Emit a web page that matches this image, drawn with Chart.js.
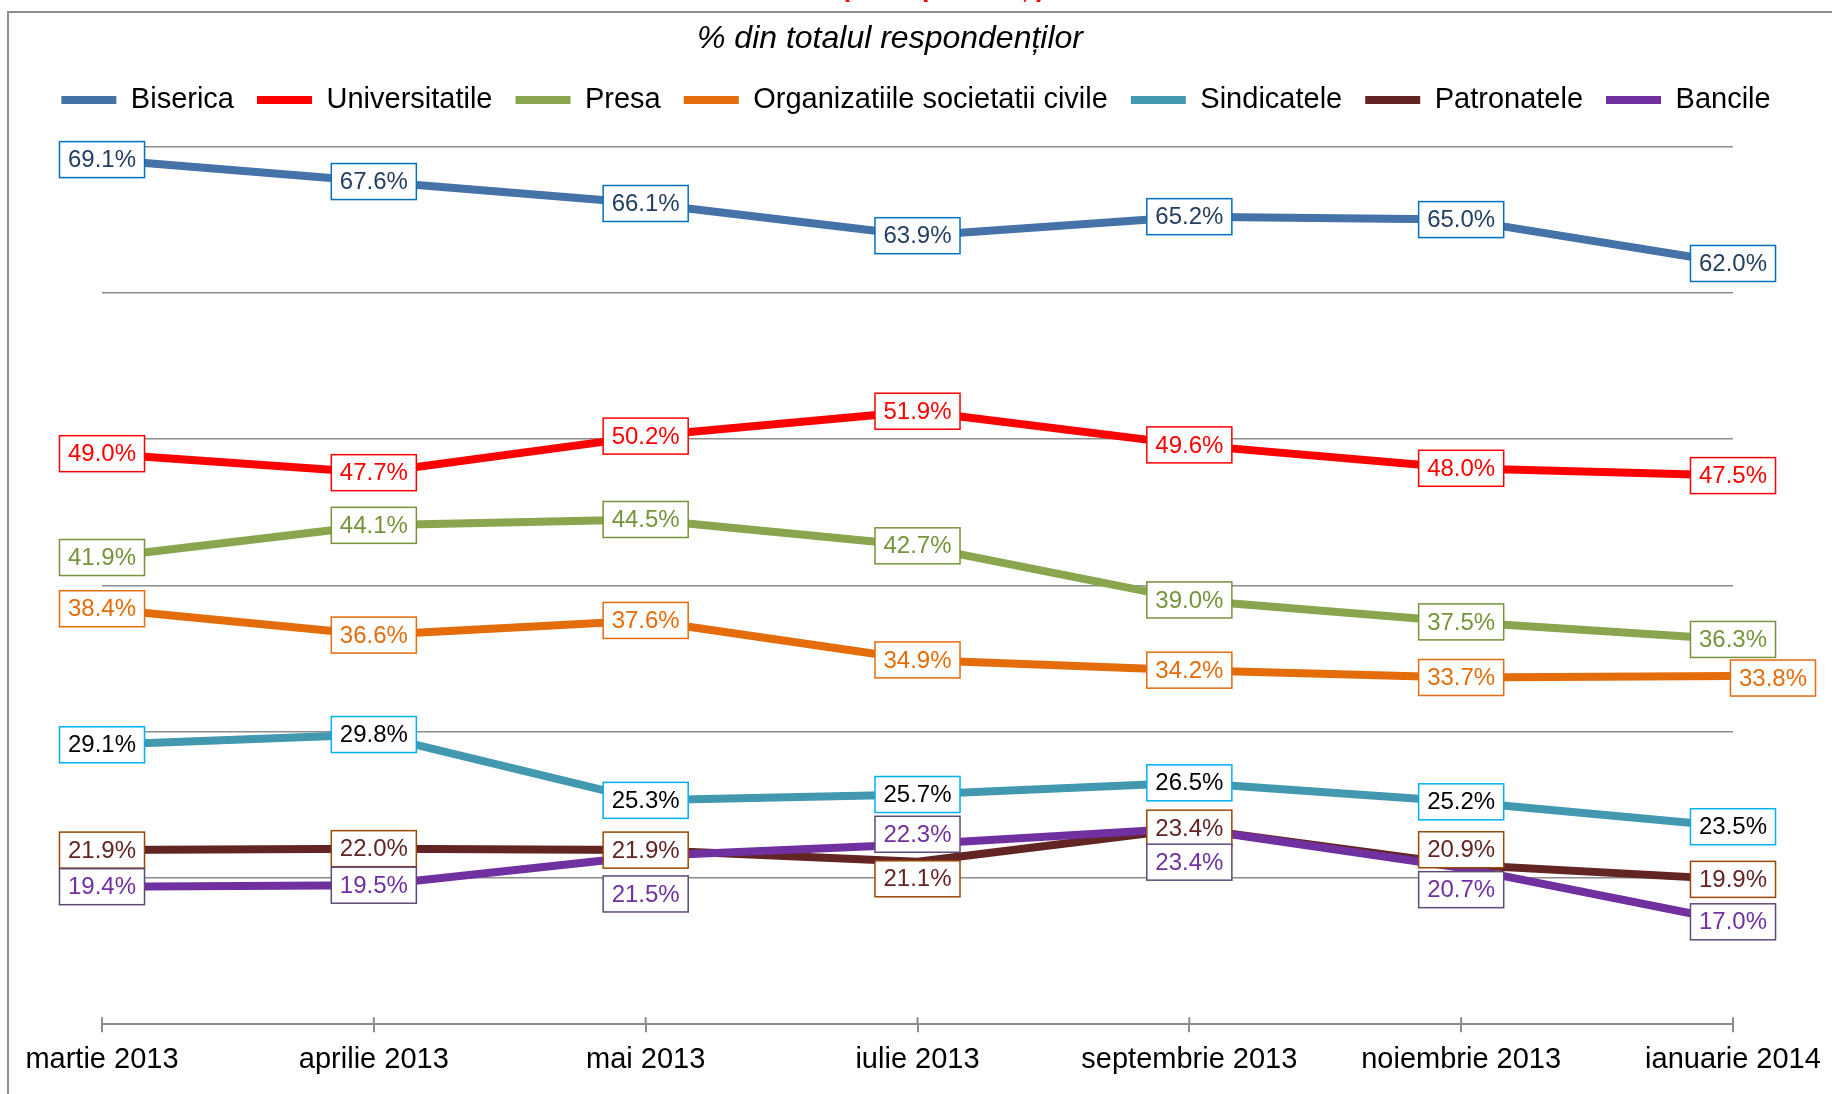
<!DOCTYPE html>
<html lang="ro">
<head>
<meta charset="utf-8">
<title>Încrederea în instituții</title>
<script src="https://cdn.jsdelivr.net/npm/chart.js@4.4.1/dist/chart.umd.min.js"></script>
<style>
    html, body { margin: 0; padding: 0; background: #fff; overflow: hidden; }
    .wrap { position: relative; width: 1832px; height: 1094px; }
    .top-title {
        position: absolute; left: 0; width: 1886px; top: -26px;
        font: bold 27px "Liberation Sans", Arial, sans-serif; line-height: 27px;
        color: #ff0000; text-align: center; white-space: nowrap;
    }
    .sub-title {
        position: absolute; left: 0; width: 1780px; top: 21px;
        font: italic 32px "Liberation Sans", Arial, sans-serif; line-height: 32px;
        color: #000; text-align: center; white-space: nowrap;
    }
</style>
</head>
<body>
<div class="wrap">
    <canvas id="trustChart"></canvas>
    <div class="top-title">(% respondenți)</div>
    <div class="sub-title">% din totalul respondenților</div>
</div>
<script>
// date
const months = ['martie 2013', 'aprilie 2013', 'mai 2013', 'iulie 2013', 'septembrie 2013', 'noiembrie 2013', 'ianuarie 2014'];
const seriesNames = ['Biserica', 'Universitatile', 'Presa', 'Organizatiile societatii civile', 'Sindicatele', 'Patronatele', 'Bancile'];
const biserica = [69.1, 67.6, 66.1, 63.9, 65.2, 65.0, 62.0];
const universitatile = [49.0, 47.7, 50.2, 51.9, 49.6, 48.0, 47.5];
const presa = [41.9, 44.1, 44.5, 42.7, 39.0, 37.5, 36.3];
const organizatii = [38.4, 36.6, 37.6, 34.9, 34.2, 33.7, 33.8];
const sindicatele = [29.1, 29.8, 25.3, 25.7, 26.5, 25.2, 23.5];
const patronatele = [21.9, 22.0, 21.9, 21.1, 23.4, 20.9, 19.9];
const bancile = [19.4, 19.5, 21.5, 22.3, 23.4, 20.7, 17.0];

const allValues = [biserica, universitatile, presa, organizatii, sindicatele, patronatele, bancile];

// culori: linie, text eticheta, chenar eticheta
const lineColors = ['#4572A7', '#FF0000', '#89A54E', '#E46C0A', '#4198AF', '#632523', '#7030A0'];
const labelText = ['#243F60', '#FF0000', '#77933C', '#E46C0A', '#000000', '#632523', '#7030A0'];
const labelBorder = ['#0070C0', '#FF0000', '#77933C', '#E46C0A', '#00B0F0', '#984807', '#5F497A'];

// etichete mutate de pe punct (dx, dy in pixeli)
const labelShift = {
    'Organizatiile societatii civile': { 6: [40, 2] },
    'Patronatele': { 3: [0, 17], 5: [0, -15] },
    'Bancile': { 2: [0, 38], 3: [0, -10], 4: [0, 34], 5: [0, 22] }
};

const FONT = '"Liberation Sans", Arial, sans-serif';
const GRID = '#8C8C8C';

// chenarul din jurul graficului
const frame = {
    id: 'frame',
    beforeDraw(chart) {
        const ctx = chart.ctx;
        ctx.save();
        ctx.strokeStyle = GRID;
        ctx.lineWidth = 2;
        ctx.beginPath();
        ctx.moveTo(8, chart.height);
        ctx.lineTo(8, 12);
        ctx.lineTo(chart.width, 12);
        ctx.stroke();
        ctx.restore();
    }
};

// liniutele axei x care trec si deasupra axei
const crossTicks = {
    id: 'crossTicks',
    afterDraw(chart) {
        const ctx = chart.ctx;
        const xs = chart.scales.x;
        const b = chart.chartArea.bottom;
        ctx.save();
        ctx.strokeStyle = GRID;
        ctx.lineWidth = 2;
        ctx.beginPath();
        xs.ticks.forEach((t, i) => {
            const x = xs.getPixelForTick(i);
            ctx.moveTo(x, b - 7);
            ctx.lineTo(x, b);
        });
        ctx.stroke();
        ctx.restore();
    }
};

// etichete cu valori, in casete cu chenar
const valueLabels = {
    id: 'valueLabels',
    afterDatasetsDraw(chart) {
        const ctx = chart.ctx;
        ctx.save();
        ctx.font = '24px ' + FONT;
        ctx.textAlign = 'center';
        ctx.textBaseline = 'middle';
        chart.data.datasets.forEach((ds, di) => {
            const meta = chart.getDatasetMeta(di);
            const shift = labelShift[ds.label] || {};
            meta.data.forEach((pt, i) => {
                const text = ds.data[i].toFixed(1) + '%';
                const w = ctx.measureText(text).width + 17;
                const h = 36;
                const s = shift[i] || [0, 0];
                const cx = pt.x + s[0];
                const cy = pt.y + s[1];
                ctx.fillStyle = '#fff';
                ctx.fillRect(cx - w / 2, cy - h / 2, w, h);
                ctx.strokeStyle = labelBorder[di];
                ctx.lineWidth = 1.5;
                ctx.strokeRect(cx - w / 2, cy - h / 2, w, h);
                ctx.fillStyle = labelText[di];
                ctx.fillText(text, cx, cy + 1);
            });
        });
        ctx.restore();
    }
};

const datasets = seriesNames.map((name, i) => ({
    label: name,
    data: allValues[i],
    borderColor: lineColors[i],
    backgroundColor: lineColors[i],
    borderWidth: 8,
    borderCapStyle: 'round',
    borderJoinStyle: 'round',
    pointRadius: 0,
    pointHoverRadius: 0,
    tension: 0,
    fill: false,
    order: seriesNames.length - i
}));

new Chart(document.getElementById('trustChart'), {
    type: 'line',
    data: { labels: months, datasets: datasets },
    options: {
        responsive: true,
        maintainAspectRatio: false,
        animation: false,
        layout: { padding: { top: 62.5, bottom: 7, left: 0, right: 0 } },
        scales: {
            x: {
                offset: false,
                grid: { display: true, drawOnChartArea: false, drawTicks: true, tickLength: 8, color: GRID, lineWidth: 2 },
                border: { display: true, color: GRID, width: 2 },
                ticks: { color: '#000', font: { family: FONT, size: 29 }, padding: 10, maxRotation: 0, autoSkip: false }
            },
            y: {
                min: 10,
                max: 71.5,
                grid: { color: GRID, lineWidth: 1.5, drawTicks: false },
                border: { display: false },
                ticks: { display: false, stepSize: 10, includeBounds: false },
                afterFit(scale) { scale.width = 102; }
            },
            yR: {
                type: 'linear',
                position: 'right',
                grid: { display: false },
                border: { display: false },
                ticks: { display: false },
                afterFit(scale) { scale.width = 99; }
            }
        },
        plugins: {
            legend: {
                position: 'top',
                labels: {
                    usePointStyle: true,
                    pointStyle: 'line',
                    pointStyleWidth: 55,
                    padding: 23,
                    color: '#000',
                    font: { family: FONT, size: 29 },
                    sort: (a, b) => a.datasetIndex - b.datasetIndex
                }
            },
            title: { display: false },
            tooltip: { enabled: false }
        }
    },
    plugins: [frame, crossTicks, valueLabels]
});
</script>
</body>
</html>
